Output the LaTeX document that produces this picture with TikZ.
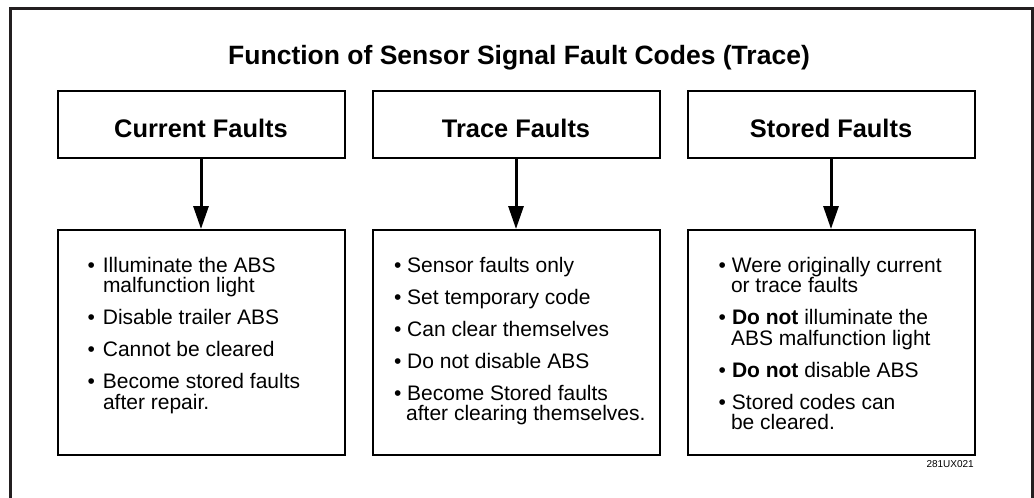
\documentclass[tikz,border=0pt]{standalone}
\usepackage{fontspec}
\setmainfont{Liberation Sans}
\usetikzlibrary{arrows.meta}
\definecolor{framec}{HTML}{231F20}
\newcommand{\bitem}[2]{\makebox[#1][l]{\textbullet}#2}
\newcommand{\contl}[2]{\hspace*{#1}#2}
\begin{document}
\begin{tikzpicture}[x=1pt,y=-1pt,
  hdrbox/.style={draw=black, line width=2pt, minimum width=287pt, minimum height=67pt, inner sep=0pt},
  lowbox/.style={draw=black, line width=2pt, minimum width=287pt, minimum height=225pt, inner sep=0pt},
  hdrtext/.style={anchor=base, inner sep=0pt, font={\fontsize{25.4pt}{30pt}\selectfont\bfseries}},
  bodytext/.style={anchor=north west, inner sep=0pt, align=left, font={\fontsize{21pt}{20.5pt}\selectfont}},
  arr/.style={line width=3pt, -{Triangle[length=23pt,width=15pt]}}
]
\useasboundingbox (0,0) rectangle (1034,498);
% outer frame (open at the bottom edge of the picture)
\draw[framec, line width=3pt] (10.5,502) -- (10.5,8.5) -- (1032.5,8.5) -- (1032.5,502);

\node[anchor=base, inner sep=0pt, font={\fontsize{26.5pt}{30pt}\selectfont\bfseries}] (title) at (519,64)
  {Function of Sensor Signal Fault Codes (Trace)};

% header boxes
\node[hdrbox] (h1) at (201,124) {};
\node[hdrbox] (h2) at (516,124) {};
\node[hdrbox] (h3) at (831,124) {};
\node[hdrtext] (t1) at (201,137) {Current Faults};
\node[hdrtext] (t2) at (516,137) {Trace Faults};
\node[hdrtext] (t3) at (831,137) {Stored Faults};

% lower boxes
\node[lowbox] (b1) at (201,342.5) {};
\node[lowbox] (b2) at (516,342.5) {};
\node[lowbox] (b3) at (831,342.5) {};

% arrows
\draw[arr] (h1.south) -- (b1.north);
\draw[arr] (h2.south) -- (b2.north);
\draw[arr] (h3.south) -- (b3.north);

% texts
\node[bodytext] (x1) at (87.3,257) {%
  \bitem{15.4pt}{Illuminate the ABS}\\
  \contl{15.5pt}{malfunction light}\\[11.5pt]
  \bitem{15.4pt}{Disable trailer ABS}\\[11.5pt]
  \bitem{15.4pt}{Cannot be cleared}\\[11.5pt]
  \bitem{15.4pt}{Become stored faults}\\
  \contl{15.5pt}{after repair.}};

\node[bodytext] (x2) at (394,257) {%
  \bitem{13pt}{Sensor faults only}\\[11.5pt]
  \bitem{13pt}{Set temporary code}\\[11.5pt]
  \bitem{13pt}{Can clear themselves}\\[11.5pt]
  \bitem{13pt}{Do not disable ABS}\\[11.5pt]
  \bitem{13pt}{Become Stored faults}\\
  \contl{12pt}{after clearing themselves.}};

\node[bodytext] (x3) at (718.3,257) {%
  \bitem{13.5pt}{Were originally current}\\
  \contl{12.5pt}{or trace faults}\\[11.5pt]
  \bitem{13.5pt}{\textbf{Do not} illuminate the}\\
  \contl{12.5pt}{ABS malfunction light}\\[11.5pt]
  \bitem{13.5pt}{\textbf{Do not} disable ABS}\\[11.5pt]
  \bitem{13.5pt}{Stored codes can}\\
  \contl{12.5pt}{be cleared.}};

\node[anchor=base east, inner sep=0pt, font={\fontsize{10pt}{12pt}\selectfont}] (code) at (974,467) {281UX021};
\end{tikzpicture}
\end{document}
